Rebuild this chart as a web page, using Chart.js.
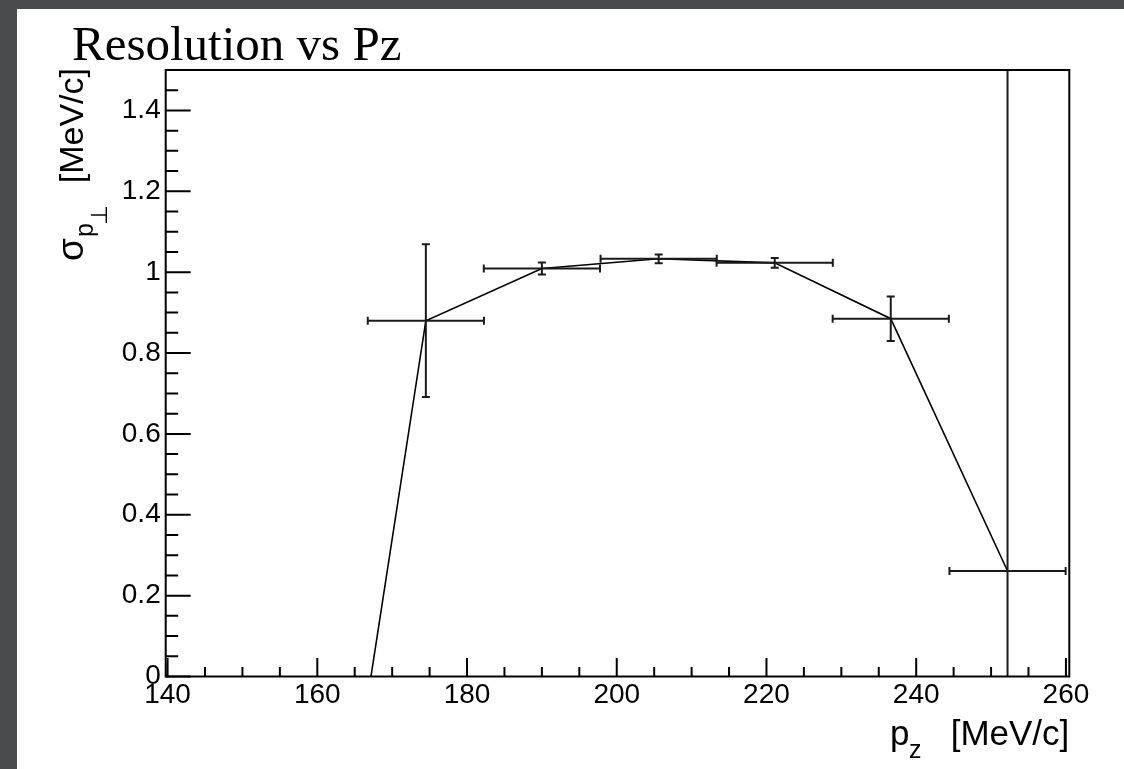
<!DOCTYPE html>
<html>
<head>
<meta charset="utf-8">
<script src="https://cdn.jsdelivr.net/npm/chart.js@4.4.0/dist/chart.umd.min.js"></script>
<style>
  html, body { margin: 0; padding: 0; width: 1124px; height: 769px; overflow: hidden; background: #4a4b4d; }
  #wrap { position: absolute; left: 17px; top: 9px; width: 1107px; height: 760px; background: #fff; }
</style>
</head>
<body>
<div id="wrap"><canvas id="resChart" width="1107" height="760"></canvas></div>
<script>
// values
const pz       = [159.0, 174.5, 190.0, 205.6, 221.1, 236.6, 252.2];
const pzErr    = [7.76, 7.76, 7.76, 7.76, 7.76, 7.76, 7.76];
const sigma    = [-0.98, 0.880, 1.009, 1.033, 1.023, 0.885, 0.261];
const sigmaErr = [0.30, 0.189, 0.015, 0.011, 0.012, 0.055, 1.60];

const xTicks  = [140, 160, 180, 200, 220, 240, 260];
const xLabels = ["140", "160", "180", "200", "220", "240", "260"];
const yTicks  = [0, 0.2, 0.4, 0.6, 0.8, 1, 1.2, 1.4];
const yLabels = ["0", "0.2", "0.4", "0.6", "0.8", "1", "1.2", "1.4"];

const tickFont = { family: "'Liberation Sans', Arial, sans-serif", size: 28 };

// ROOT style: error bars with little end caps
const errorBars = {
    id: 'errorBars',
    afterDatasetsDraw(chart) {
        const { ctx, chartArea: a, scales: { x, y } } = chart;
        ctx.save();
        ctx.beginPath();
        ctx.rect(a.left, a.top, a.right - a.left, a.bottom - a.top);
        ctx.clip();
        ctx.strokeStyle = '#1a1a1a';
        ctx.lineWidth = 2;
        const cap = 4;
        pz.forEach((v, i) => {
            const px = x.getPixelForValue(v);
            const py = y.getPixelForValue(sigma[i]);
            const x0 = x.getPixelForValue(v - pzErr[i]);
            const x1 = x.getPixelForValue(v + pzErr[i]);
            const y0 = y.getPixelForValue(sigma[i] - sigmaErr[i]);
            const y1 = y.getPixelForValue(sigma[i] + sigmaErr[i]);
            ctx.beginPath();
            ctx.moveTo(x0, py); ctx.lineTo(x1, py);
            ctx.moveTo(px, y0); ctx.lineTo(px, y1);
            ctx.moveTo(x0, py - cap); ctx.lineTo(x0, py + cap);
            ctx.moveTo(x1, py - cap); ctx.lineTo(x1, py + cap);
            ctx.moveTo(px - cap, y0); ctx.lineTo(px + cap, y0);
            ctx.moveTo(px - cap, y1); ctx.lineTo(px + cap, y1);
            ctx.stroke();
        });
        ctx.restore();
    }
};

// frame, inward ticks, titles
const frameAndText = {
    id: 'frameAndText',
    afterDraw(chart) {
        const { ctx, chartArea: a, scales: { x, y } } = chart;
        ctx.save();
        ctx.strokeStyle = '#000';
        ctx.lineWidth = 2;
        ctx.strokeRect(a.left, a.top, a.right - a.left, a.bottom - a.top);

        ctx.beginPath();
        for (let v = 140; v <= 260; v += 5) {
            const px = x.getPixelForValue(v);
            const len = (v % 20 === 0) ? 18.5 : 9.5;
            ctx.moveTo(px, a.bottom); ctx.lineTo(px, a.bottom - len);
        }
        for (let k = 0; k <= 30; k++) {
            const py = y.getPixelForValue(k * 0.05);
            const len = (k % 4 === 0) ? 25 : 12.5;
            ctx.moveTo(a.left, py); ctx.lineTo(a.left + len, py);
        }
        ctx.stroke();

        ctx.fillStyle = '#000';
        ctx.textBaseline = 'alphabetic';

        // title
        ctx.font = "49px 'Liberation Serif', serif";
        ctx.textAlign = 'left';
        ctx.fillText('Resolution vs Pz', 55, 51);

        // x title
        ctx.font = "35px 'Liberation Sans', Arial, sans-serif";
        ctx.textAlign = 'right';
        ctx.fillText('[MeV/c]', a.right, 736);
        ctx.textAlign = 'left';
        ctx.fillText('p', 873, 736);
        ctx.font = "25px 'Liberation Sans', Arial, sans-serif";
        ctx.fillText('z', 892, 749);

        // y title
        ctx.save();
        ctx.translate(66, 252);
        ctx.rotate(-Math.PI / 2);
        ctx.font = "37px 'Liberation Sans', Arial, sans-serif";
        ctx.textAlign = 'left';
        ctx.fillText('σ', 0, 0);
        ctx.font = "25px 'Liberation Sans', Arial, sans-serif";
        ctx.fillText('p', 24, 10);
        ctx.font = "23px 'DejaVu Sans', sans-serif";
        ctx.fillText('⊥', 36, 24);
        ctx.font = "34px 'Liberation Sans', Arial, sans-serif";
        ctx.textAlign = 'right';
        ctx.fillText('[MeV/c]', 193, 0);
        ctx.restore();

        ctx.restore();
    }
};

const ctx = document.getElementById('resChart').getContext('2d');
const resChart = new Chart(ctx, {
    type: 'scatter',
    data: {
        datasets: [{
            data: pz.map((v, i) => ({ x: v, y: sigma[i] })),
            showLine: true,
            borderColor: '#000',
            borderWidth: 1.6,
            pointRadius: 0,
            tension: 0
        }]
    },
    options: {
        responsive: false,
        animation: false,
        layout: { padding: { left: 88.7, top: 61, right: 54.7, bottom: 52.5 } },
        plugins: {
            legend: { display: false },
            tooltip: { enabled: false }
        },
        scales: {
            x: {
                type: 'linear',
                min: 139.75,
                max: 260.45,
                grid: { display: false, drawTicks: false },
                border: { display: false },
                afterBuildTicks: s => { s.ticks = xTicks.map(v => ({ value: v })); },
                afterFit: s => { s.height = 40; },
                ticks: {
                    padding: 2,
                    color: '#000',
                    font: tickFont,
                    maxRotation: 0,
                    autoSkip: false,
                    callback: (v, i) => xLabels[i]
                }
            },
            y: {
                type: 'linear',
                min: 0,
                max: 1.5,
                grid: { display: false, drawTicks: false },
                border: { display: false },
                afterBuildTicks: s => { s.ticks = yTicks.map(v => ({ value: v })); },
                afterFit: s => { s.width = 60; },
                ticks: {
                    padding: 5,
                    color: '#000',
                    font: tickFont,
                    autoSkip: false,
                    callback: (v, i) => yLabels[i]
                }
            }
        }
    },
    plugins: [errorBars, frameAndText]
});
</script>
</body>
</html>
